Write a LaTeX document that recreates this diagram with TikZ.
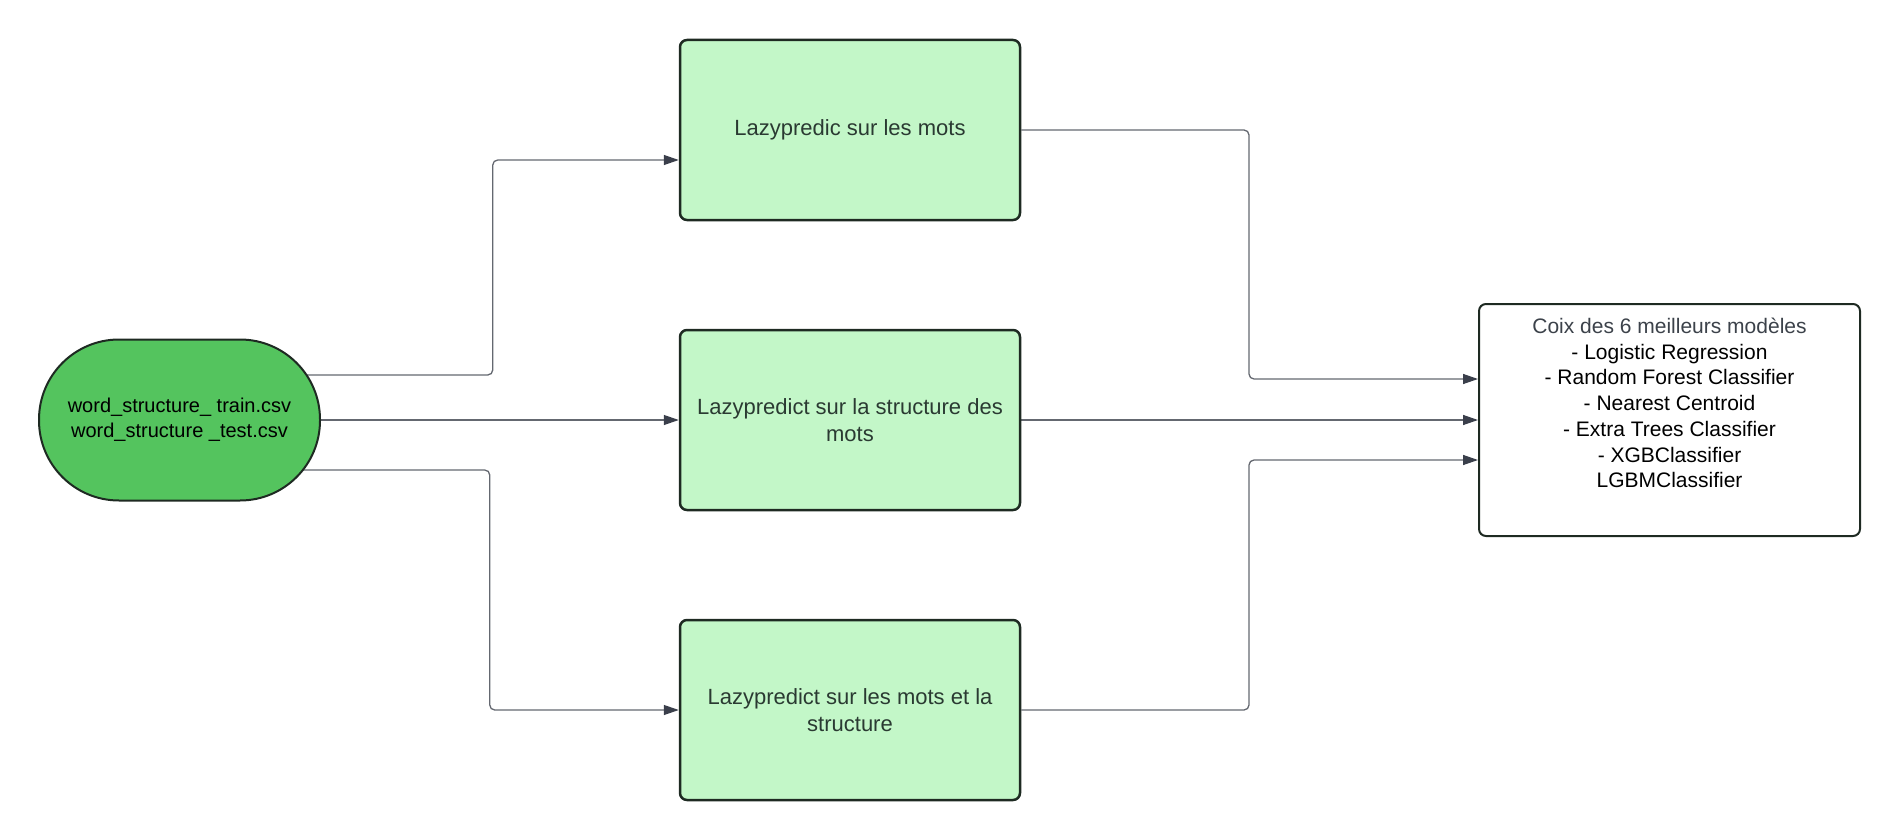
\documentclass[tikz,border=0pt]{standalone}
\usepackage{fontspec}
\setmainfont{Liberation Sans}
\usetikzlibrary{arrows.meta,backgrounds}
\definecolor{srcfill}{RGB}{84,196,94}
\definecolor{boxfill}{RGB}{195,247,200}
\definecolor{edge}{RGB}{30,42,34}
\definecolor{boxtext}{RGB}{42,58,50}
\definecolor{linegrey}{RGB}{100,104,112}
\definecolor{tipcol}{RGB}{58,63,75}
\definecolor{titlegrey}{RGB}{60,66,74}
\tikzset{
  srcnode/.style={draw=edge, line width=2pt, fill=srcfill, rounded corners=80pt,
    minimum width=281pt, minimum height=161pt, align=center, inner sep=0pt,
    font=\fontsize{20}{25}\selectfont, text=black},
  stagebox/.style={draw=edge, line width=2.5pt, fill=boxfill, rounded corners=7pt,
    minimum width=340pt, minimum height=180pt, align=center, inner sep=0pt,
    font=\fontsize{22}{27}\selectfont, text=boxtext},
  resultbox/.style={draw=edge, line width=2pt, fill=white, rounded corners=7pt,
    minimum width=381pt, minimum height=232pt, inner sep=0pt},
  resulttext/.style={align=center, inner sep=0pt, font=\fontsize{21}{25.7}\selectfont, text=black},
  conn/.style={draw=linegrey, line width=1.3pt, rounded corners=5pt,
    -{Triangle[length=15pt,width=10pt,color=tipcol]}},
}
\begin{document}
\begin{tikzpicture}[x=1pt,y=-1pt]
\useasboundingbox (0,0) rectangle (1900,840);
\node[srcnode] (src) at (179.5,420) {word\_structure\_ train.csv\\word\_structure \_test.csv};
\node[stagebox] (b1) at (850,130) {Lazypredic sur les mots};
\node[stagebox] (b2) at (850,420) {Lazypredict sur la structure des\\mots};
\node[stagebox] (b3) at (850,710) {Lazypredict sur les mots et la\\structure};
\node[resultbox] (tgt) at (1669.5,420) {};
\node[resulttext] (tgtlabel) at (1669.5,403) {\textcolor{titlegrey}{Coix des 6 meilleurs modèles}\\- Logistic Regression\\- Random Forest Classifier\\- Nearest Centroid\\- Extra Trees Classifier\\- XGBClassifier\\LGBMClassifier};
\begin{scope}[on background layer]
  \draw[conn] ([yshift=45pt]src.center) -| ([xshift=-186pt,yshift=-30pt]b1.west) -- ([yshift=-30pt]b1.west);
  \draw[conn] (src.east) -- (b2.west);
  \draw[conn] ([yshift=-50pt]src.center) -| ([xshift=-189pt]b3.west) -- (b3.west);
  \draw[conn] (b1.east) -| ([xshift=-229pt,yshift=41pt]tgt.west) -- ([yshift=41pt]tgt.west);
  \draw[conn] (b2.east) -- (tgt.west);
  \draw[conn] (b3.east) -| ([xshift=-229pt,yshift=-40pt]tgt.west) -- ([yshift=-40pt]tgt.west);
\end{scope}
\end{tikzpicture}
\end{document}
